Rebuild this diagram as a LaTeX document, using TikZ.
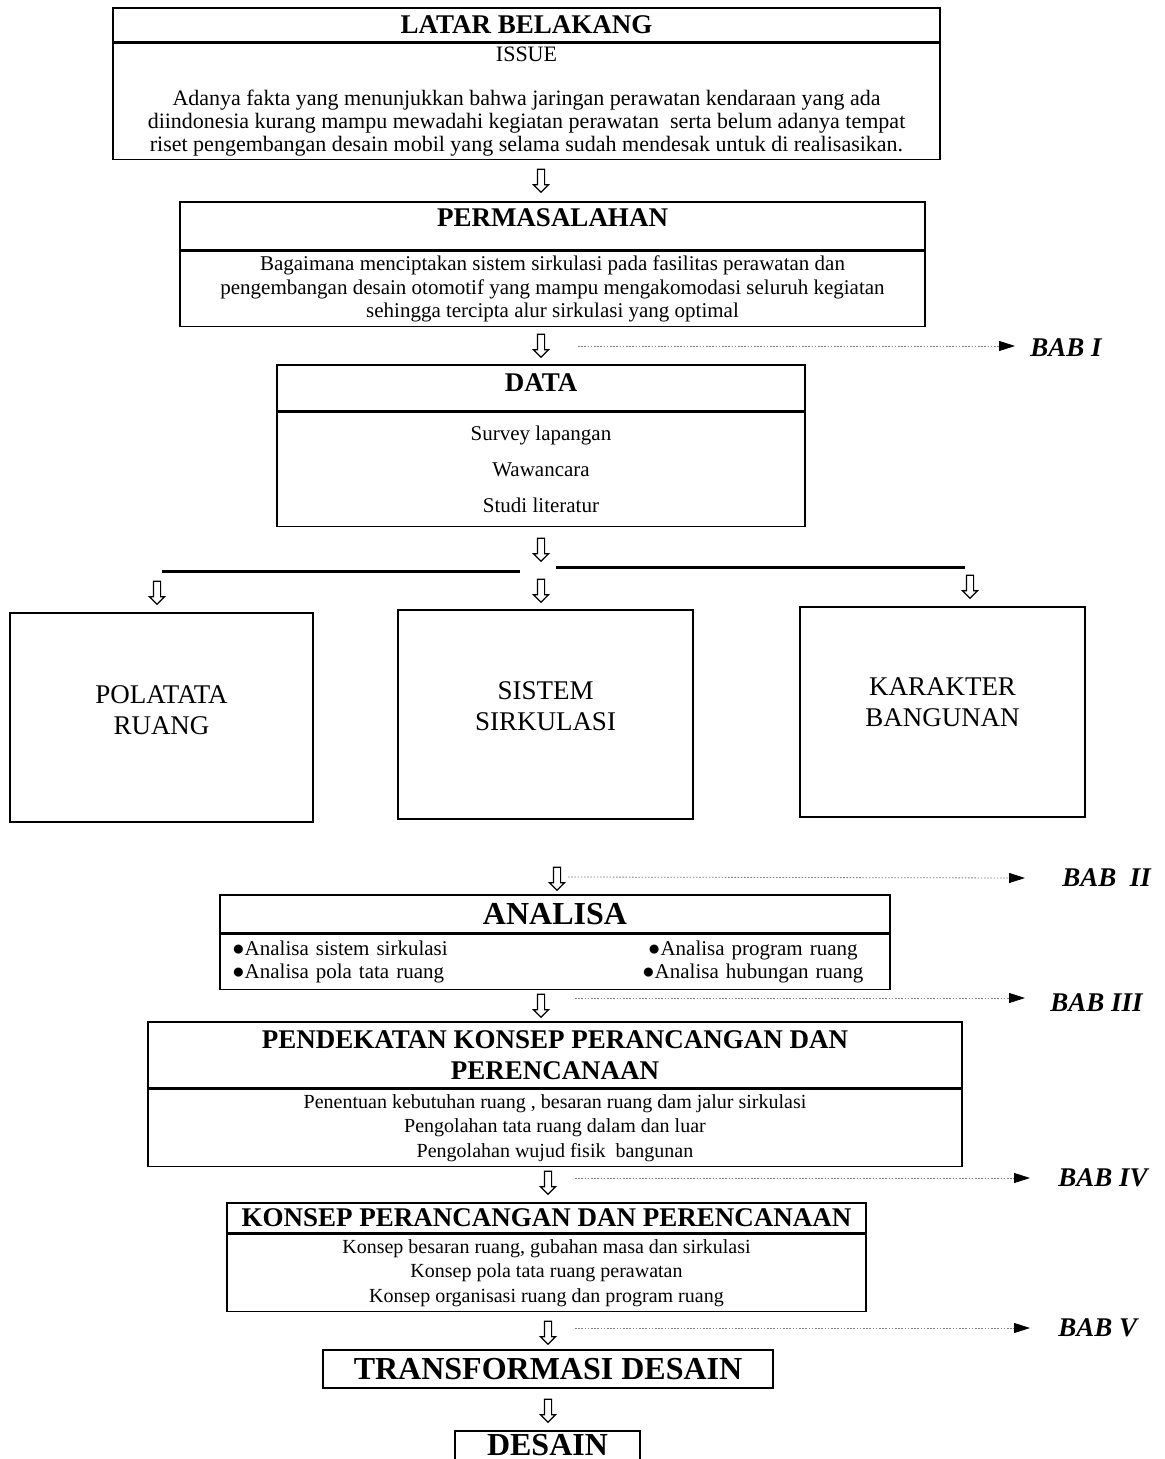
\documentclass[tikz,border=0pt]{standalone}
\usepackage{fontspec}
\setmainfont{Liberation Serif}
\usetikzlibrary{positioning, shapes.arrows, arrows.meta}

\begin{document}
\begin{tikzpicture}[
    x=0.5pt, y=-0.5pt,
    titlebox/.style={draw, line width=0.8pt, inner sep=0pt, align=center,
        font=\fontsize{13.5}{15.5}\selectfont\bfseries},
    bodybox/.style={draw, line width=0.8pt, inner sep=0pt, align=center,
        font=\fontsize{10.5}{11.75}\selectfont},
    bigbox/.style={draw, line width=0.8pt, inner sep=0pt},
    bigtext/.style={align=center, font=\fontsize{13.5}{15.5}\selectfont},
    hollow/.style={single arrow, draw, semithick, shape border rotate=270,
        minimum height=11.5pt, inner sep=1.5pt, single arrow head extend=2pt},
    babline/.style={draw=gray, line width=0.4pt, dash pattern=on 0.8pt off 0.8pt,
        -{Triangle[length=8pt, width=5pt, black]}},
    bab/.style={anchor=west, inner sep=0pt, font=\fontsize{13.5}{16}\selectfont\bfseries\itshape}
]
\useasboundingbox (0,0) rectangle (1165,1459);

% latar belakang
\node[titlebox, minimum width=413.5pt, minimum height=17pt] (latarT) at (526.5,25) {LATAR BELAKANG};
\node[bodybox, below=0pt of latarT, minimum width=413.5pt, minimum height=58pt,
      font=\fontsize{11}{11.5}\selectfont] (latarB)
    {ISSUE\\[10.5pt]
     Adanya fakta yang menunjukkan bahwa jaringan perawatan kendaraan yang ada\\
     diindonesia kurang mampu mewadahi kegiatan perawatan\ \ serta belum adanya tempat\\
     riset pengembangan desain mobil yang selama sudah mendesak untuk di realisasikan.};

% permasalahan
\node[titlebox, minimum width=372.5pt, minimum height=24pt, text depth=8pt] (masalahT) at (552.5,226) {PERMASALAHAN};
\node[bodybox, below=0pt of masalahT, minimum width=372.5pt, minimum height=37.5pt] (masalahB)
    {Bagaimana menciptakan sistem sirkulasi pada fasilitas perawatan dan\\
     pengembangan desain otomotif yang mampu mengakomodasi seluruh kegiatan\\
     sehingga tercipta alur sirkulasi yang optimal};

% data
\node[titlebox, minimum width=264pt, minimum height=23pt, text depth=5pt] (dataT) at (541,388) {DATA};
\node[bodybox, below=0pt of dataT, minimum width=264pt, minimum height=57pt,
      font=\fontsize{10.5}{18}\selectfont] (dataB)
    {Survey lapangan\\ Wawancara\\ Studi literatur};

% arrows down
\node[hollow] (a1) at (541,179) {};
\node[hollow] (a2) at (541,344) {};
\node[hollow] (a3) at (541,548) {};
\node[hollow] (s1) at (157,591) {};
\node[hollow] (s2) at (541,589) {};
\node[hollow] (s3) at (970,585) {};
\node[hollow] (a4) at (557,877) {};
\node[hollow] (a5) at (541,1004) {};
\node[hollow] (a6) at (548,1181) {};
\node[hollow] (a7) at (548,1331) {};
\node[hollow] (a8) at (548,1409) {};

% branch line
\coordinate (hl1) at (162,571);
\coordinate (hl2) at (520,571);
\coordinate (hr1) at (556,567);
\coordinate (hr2) at (965,567);
\draw[line width=1.5pt] (hl1) -- (hl2);
\draw[line width=1.5pt] (hr1) -- (hr2);

% three aspects
\node[bigbox, minimum width=151.5pt, minimum height=104.5pt,
      label={[bigtext, yshift=3.5pt]center:POLATATA\\RUANG}] (pola) at (161.5,717.5) {};
\node[bigbox, minimum width=147.5pt, minimum height=104.5pt,
      label={[bigtext, yshift=4.25pt]center:SISTEM\\SIRKULASI}] (sistem) at (545.5,714.5) {};
\node[bigbox, minimum width=142.5pt, minimum height=105pt,
      label={[bigtext, yshift=5pt]center:KARAKTER\\BANGUNAN}] (karakter) at (942.5,712) {};

% analisa
\node[titlebox, minimum width=335pt, minimum height=19pt,
      font=\fontsize{16}{18}\selectfont\bfseries] (analT) at (555,914) {ANALISA};
\node[bodybox, below=0pt of analT, minimum width=335pt, minimum height=27.5pt,
      text width=323pt, inner xsep=6pt, align=left,
      font=\fontsize{10.5}{11.5}\selectfont] (analB)
    {\begin{tabular}{@{}lc@{}}
     \makebox[193pt][l]{●Analisa sistem sirkulasi} & ●Analisa program ruang\\
     \makebox[193pt][l]{●Analisa pola tata ruang} & ●Analisa hubungan ruang
     \end{tabular}};

% pendekatan
\node[titlebox, minimum width=407pt, minimum height=33pt] (dekatT) at (555,1055)
    {PENDEKATAN KONSEP PERANCANGAN DAN\\PERENCANAAN};
\node[bodybox, below=0pt of dekatT, minimum width=407pt, minimum height=38.5pt,
      font=\fontsize{10}{12.2}\selectfont] (dekatB)
    {Penentuan kebutuhan ruang , besaran ruang dam jalur sirkulasi\\
     Pengolahan tata ruang dalam dan luar\\
     Pengolahan wujud fisik\ \ bangunan};

% konsep
\node[titlebox, minimum width=319.5pt, minimum height=15pt] (konsepT) at (546.5,1218)
    {KONSEP PERANCANGAN DAN PERENCANAAN};
\node[bodybox, below=0pt of konsepT, minimum width=319.5pt, minimum height=38.5pt,
      font=\fontsize{10}{12.2}\selectfont] (konsepB)
    {Konsep besaran ruang, gubahan masa dan sirkulasi\\
     Konsep pola tata ruang perawatan\\
     Konsep organisasi ruang dan program ruang};

% transformasi dan desain
\node[titlebox, minimum width=225pt, minimum height=19pt,
      font=\fontsize{16}{18}\selectfont\bfseries] (trans) at (548,1369) {TRANSFORMASI DESAIN};
\node[titlebox, minimum width=92.5pt, minimum height=20pt, anchor=north, text depth=5.5pt,
      font=\fontsize{16}{18}\selectfont\bfseries] (desain) at (547.5,1430) {DESAIN};

% bab labels
\node[bab] (bab1) at (1030,348) {BAB I};
\node[bab] (bab2) at (1062,878) {BAB\ \ II};
\node[bab] (bab3) at (1050,1003) {BAB III};
\node[bab] (bab4) at (1058,1178) {BAB IV};
\node[bab] (bab5) at (1058,1328) {BAB V};

\draw[babline] ([xshift=18.5pt, yshift=-1pt]a2.center) -- ([xshift=-7.5pt, yshift=1pt]bab1.west);
\draw[babline] ([xshift=5.5pt]a4.center) -- ([xshift=-18.5pt]bab2.west);
\draw[babline] ([xshift=17pt, yshift=3pt]a5.center) -- ([xshift=-12.5pt, yshift=2.5pt]bab3.west);
\draw[babline] ([xshift=13.5pt, yshift=1.5pt]a6.center) -- ([xshift=-14pt]bab4.west);
\draw[babline] ([xshift=13.5pt, yshift=1.5pt]a7.center) -- ([xshift=-14pt]bab5.west);

\end{tikzpicture}
\end{document}
